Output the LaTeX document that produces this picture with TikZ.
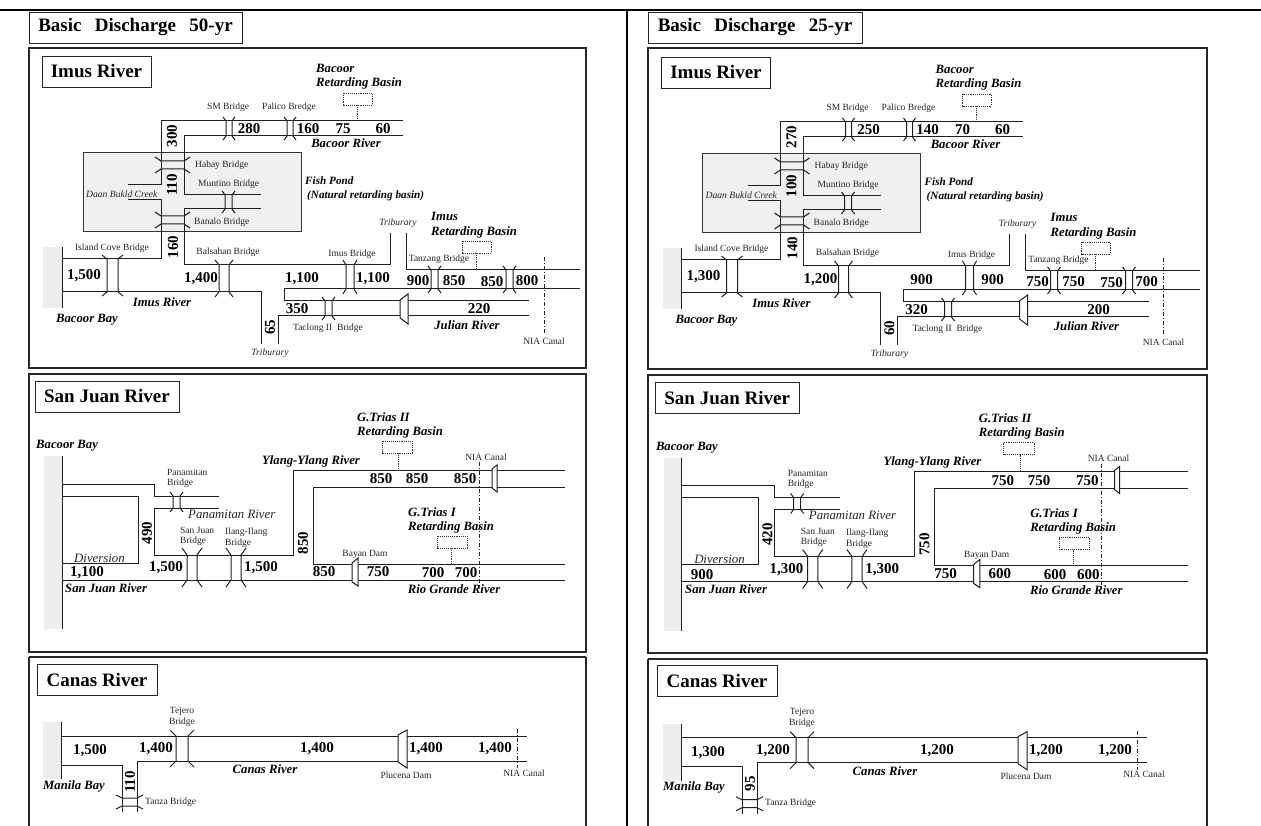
\documentclass[tikz,border=0pt]{standalone}
\usepackage{fontspec}
\setmainfont{Liberation Serif}
\newcounter{lbl}
\newcommand{\lab}[4][]{\stepcounter{lbl}\node[#1] (lbl\thelbl) at (#2,#3) {#4};}
% vertical bridge: x1,x2,y1,y2,flare x,flare y
\newcommand{\vbr}[6]{%
 \draw[river] ({#1-#5},{#3-#6}) -- (#1,#3) -- (#1,#4) -- ({#1-#5},{#4+#6});
 \draw[river] ({#2+#5},{#3-#6}) -- (#2,#3) -- (#2,#4) -- ({#2+#5},{#4+#6});}
% horizontal bridge: y1,y2,x1,x2,flare x,flare y
\newcommand{\hbr}[6]{%
 \draw[river] ({#3-#5},{#1-#6}) -- (#3,#1) -- (#4,#1) -- ({#4+#5},{#1-#6});
 \draw[river] ({#3-#5},{#2+#6}) -- (#3,#2) -- (#4,#2) -- ({#4+#5},{#2+#6});}
% dam: xl,xr,yl1,yl2,yr1,yr2
\newcommand{\dam}[6]{\draw[river,fill=white] (#1,#3) -- (#2,#5) -- (#2,#6) -- (#1,#4) -- cycle;}
% retarding basin: x1,x2,y1,y2,stem x,stem end
\newcommand{\basin}[6]{\draw[dotline] (#1,#3) rectangle (#2,#4); \draw[dotline] (#5,#4) -- (#5,#6);}
\tikzset{
 river/.style={line width=1pt,draw=black!88},
 dotline/.style={line width=0.9pt,draw=black!80,densely dotted},
 canal/.style={line width=0.9pt,draw=black!85,dash pattern=on 4pt off 2pt on 1pt off 2pt},
 panelbox/.style={line width=1.5pt,draw=black!85},
 pale/.style={fill=black!7,draw=none},
 pond/.style={fill=black!6,draw=black!80,line width=1pt},
 titlebox/.style={draw=black!85,line width=0.9pt,fill=white,inner sep=0pt,font=\fontsize{19}{22}\selectfont\bfseries,minimum height=31pt},
 numlab/.style={inner sep=0pt,font=\fontsize{15}{17}\selectfont\bfseries},
 rivlab/.style={inner sep=0pt,font=\fontsize{12.7}{15}\selectfont\bfseries\itshape},
 pondlab/.style={inner sep=0pt,font=\fontsize{11.2}{13}\selectfont\bfseries\itshape},
 smalllab/.style={inner sep=0pt,text=black!85,font=\fontsize{9.5}{11}\selectfont},
 smallit/.style={inner sep=0pt,text=black!85,font=\fontsize{9.6}{11}\selectfont\itshape},
 midit/.style={inner sep=0pt,text=black!85,font=\fontsize{12.8}{15}\selectfont\itshape},
}
\newcommand{\imuspanel}{%
 \fill[pale] (43,247) rectangle (62,308);
 \draw[pond] (83,153) rectangle (301,232);
 \draw[river] (62,247) -- (62,308);
 \draw[river] (128,185) -- (161,185) -- (161,121) -- (403,121);
 \draw[river] (403,136) -- (184,136) -- (184,195) -- (261,195);
 \draw[river] (261,209) -- (184,209) -- (184,265) -- (390,265) -- (390,233);
 \draw[river] (128,200) -- (161,200) -- (161,259) -- (62,259);
 \draw[river] (62,292) -- (261,292) -- (261,344);
 \draw[river] (406,233) -- (406,270) -- (580,270);
 \draw[river] (580,289) -- (284,289) -- (284,301) -- (529,301);
 \draw[river] (529,316) -- (278,316) -- (278,344);
 \vbr{226}{232}{121}{136}{3}{4}
 \vbr{287}{293}{121}{136}{3}{4}
 \vbr{225}{232}{195}{209}{3}{4}
 \hbr{161}{169}{161}{184}{6}{4}
 \hbr{216}{224}{161}{184}{6}{4}
 \vbr{107}{118}{259}{292}{5}{4}
 \vbr{219}{229}{265}{292}{4}{5}
 \vbr{346}{354}{265}{289}{3}{5}
 \vbr{431}{438}{270}{289}{3}{4}
 \vbr{506}{513}{270}{289}{3}{4}
 \vbr{325}{332}{301}{316}{3}{4}
 \dam{400}{408}{300}{318}{294}{324}
 \draw[canal] (544,257) -- (544,333);
 \basin{462}{491}{241}{253}{476}{270}
 \basin{343}{372}{93}{105}{357}{121}
 \lab[titlebox,minimum width=109pt]{96.5}{71.5}{Imus River}
 \lab[rivlab,anchor=west]{316}{68}{Bacoor}
 \lab[rivlab,anchor=west]{316}{83}{Retarding Basin}
 \lab[smalllab]{228}{107}{SM Bridge}
 \lab[smalllab]{289}{107}{Palico Bredge}
 \lab[numlab]{249}{129}{\iA}
 \lab[numlab]{308}{129}{\iB}
 \lab[numlab]{343}{129}{\iC}
 \lab[numlab]{383}{129}{\iD}
 \lab[rivlab]{346}{143}{Bacoor River}
 \lab[numlab,rotate=90]{172}{136}{\iE}
 \lab[numlab,rotate=90]{172}{185}{\iF}
 \lab[numlab,rotate=90]{173}{247}{\iG}
 \lab[smalllab,anchor=west]{195}{165}{Habay Bridge}
 \lab[smalllab,anchor=west]{198}{184}{Muntino Bridge}
 \lab[smallit,anchor=west]{86}{194}{Daan Bukld Creek}
 \lab[smalllab,anchor=west]{194}{222}{Banalo Bridge}
 \lab[pondlab,anchor=west]{305}{181}{Fish Pond}
 \lab[pondlab,anchor=west]{307}{196}{(Natural retarding basin)}
 \lab[smalllab]{112}{248}{Island Cove Bridge}
 \lab[smalllab]{228}{252}{Balsahan Bridge}
 \lab[smalllab]{352}{254}{Imus Bridge}
 \lab[smalllab]{439}{259}{Tanzang Bridge}
 \lab[smallit]{398}{223}{Triburary}
 \lab[rivlab,anchor=west]{431}{216}{Imus}
 \lab[rivlab,anchor=west]{431}{232}{Retarding Basin}
 \lab[numlab]{84}{276}{\iH}
 \lab[numlab]{201}{279}{\iI}
 \lab[numlab]{\iJx}{279}{\iJ}
 \lab[numlab]{373}{279}{\iK}
 \lab[numlab]{418}{281}{\iL}
 \lab[numlab]{454}{281}{\iM}
 \lab[numlab]{492}{282}{\iN}
 \lab[numlab]{527}{281}{\iO}
 \lab[numlab]{297}{309}{\iP}
 \lab[numlab]{479}{309}{\iQ}
 \lab[numlab,rotate=90]{270}{327}{\iR}
 \lab[rivlab]{162}{302}{Imus River}
 \lab[rivlab]{87}{320}{Bacoor Bay}
 \lab[rivlab]{467}{325}{Julian River}
 \lab[smalllab]{328}{328}{Taclong II\ \ Bridge}
 \lab[smallit]{270}{353}{Triburary}
 \lab[smalllab]{544}{341}{NIA Canal}
}
\newcommand{\juanpanel}{%
 \fill[pale] (44,456) rectangle (62,629);
 \draw[river] (62,456) -- (62,629);
 \draw[river] (62,484) -- (154,484) -- (154,496) -- (219,496);
 \draw[river] (219,508) -- (154,508) -- (154,555) -- (293,555) -- (293,470) -- (565,470);
 \draw[river] (565,487) -- (313,487) -- (313,564) -- (565,564);
 \draw[river] (62,580) -- (565,580);
 \draw[river] (62,496) -- (138,496) -- (138,563) -- (62,563);
 \vbr{173}{180}{496}{508}{3}{4}
 \vbr{187}{197}{555}{580}{5}{7}
 \vbr{231}{241}{555}{580}{5}{7}
 \dam{352}{358}{563}{582}{558}{586}
 \dam{492}{497}{469}{488}{465}{492}
 \draw[canal] (479,462) -- (479,588);
 \basin{382}{412}{441}{453}{398}{470}
 \basin{437}{467}{536}{548}{451}{564}
 \lab[titlebox,minimum width=144pt]{107}{396.5}{San Juan River}
 \lab[rivlab,anchor=west]{36}{446}{Bacoor Bay}
 \lab[smalllab,anchor=west]{167}{472}{Panamitan}
 \lab[smalllab,anchor=west]{167}{483}{Bridge}
 \lab[midit,anchor=west]{188}{514}{Panamitan River}
 \lab[smalllab,anchor=west]{180}{530}{San Juan}
 \lab[smalllab,anchor=west]{180}{541}{Bridge}
 \lab[smalllab,anchor=west]{225}{532}{Ilang-Ilang}
 \lab[smalllab,anchor=west]{225}{543}{Bridge}
 \lab[numlab,rotate=90]{147}{533}{\jA}
 \lab[numlab,rotate=90]{303}{543}{\jB}
 \lab[numlab]{166}{568}{\jC}
 \lab[numlab]{261}{568}{\jC}
 \lab[numlab]{\jDx}{573}{\jD}
 \lab[midit,anchor=west]{74}{558}{Diversion}
 \lab[rivlab,anchor=west]{65}{588}{San Juan River}
 \lab[rivlab]{311}{461}{Ylang-Ylang River}
 \lab[rivlab,anchor=west]{357}{417}{G.Trias II}
 \lab[rivlab,anchor=west]{357}{432}{Retarding Basin}
 \lab[rivlab,anchor=west]{408}{512}{G.Trias I}
 \lab[rivlab,anchor=west]{408}{527}{Retarding Basin}
 \lab[smalllab]{486}{457}{NIA Canal}
 \lab[numlab]{381}{479}{\jB}
 \lab[numlab]{417}{479}{\jB}
 \lab[numlab]{465}{479}{\jB}
 \lab[numlab]{324}{572}{\jB}
 \lab[numlab]{378}{572}{\jE}
 \lab[numlab]{433}{573}{\jF}
 \lab[numlab]{466}{573}{\jF}
 \lab[smalllab]{365}{554}{Bayan Dam}
 \lab[rivlab]{454}{589}{Rio Grande River}
}
\newcommand{\canaspanel}{%
 \fill[pale] (43,722) rectangle (61,779);
 \draw[river] (61,722) -- (61,779);
 \draw[river] (61,736) -- (527,736);
 \draw[river] (527,761) -- (137,761) -- (137,812);
 \draw[river] (61,765) -- (122,765) -- (122,812);
 \vbr{176}{188}{736}{761}{6}{6}
 \hbr{798}{806}{122}{137}{6}{3}
 \dam{398}{407}{735}{762}{730}{768}
 \draw[canal] (517,729) -- (517,768);
 \lab[titlebox,minimum width=120pt]{97}{679.5}{Canas River}
 \lab[smalllab]{182}{711}{Tejero}
 \lab[smalllab]{182}{722}{Bridge}
 \lab[numlab]{\cAx}{751}{\cA}
 \lab[numlab]{\cBx}{749}{\cB}
 \lab[numlab]{317}{749}{\cB}
 \lab[numlab]{426}{749}{\cB}
 \lab[numlab]{495}{749}{\cB}
 \lab[rivlab]{265}{769}{Canas River}
 \lab[rivlab]{74}{786}{Manila Bay}
 \lab[numlab,rotate=90]{130}{782}{\cC}
 \lab[smalllab,anchor=west]{145}{802}{Tanza Bridge}
 \lab[smalllab]{406}{775}{Plucena Dam}
 \lab[smalllab]{524}{773}{NIA Canal}
}
\begin{document}
\begin{tikzpicture}[x=1pt,y=-1pt]
\useasboundingbox (0,0) rectangle (1261,826);
\fill[white] (0,0) rectangle (1261,826);
% page rules
\draw[black,line width=2.5pt] (0,10) -- (1261,10);
\draw[black,line width=2.5pt] (627,10) -- (627,826);
% headings
\lab[titlebox,minimum width=213pt]{135.5}{27.5}{Basic\hspace{.7em}Discharge\hspace{.7em}50-yr}
\lab[titlebox,minimum width=214pt]{755}{27.5}{Basic\hspace{.7em}Discharge\hspace{.7em}25-yr}
% panel frames
\draw[panelbox] (29,48) rectangle (586,368);
\draw[panelbox] (29,374) rectangle (586,652);
\draw[panelbox] (29,657) -- (586,657);
\draw[panelbox] (29,657) -- (29,826);
\draw[panelbox] (586,657) -- (586,826);
\draw[panelbox] (648,48) rectangle (1207,369);
\draw[panelbox] (648,375) rectangle (1207,653);
\draw[panelbox] (648,659) -- (1207,659);
\draw[panelbox] (648,659) -- (648,826);
\draw[panelbox] (1207,659) -- (1207,826);
% 50-year
\def\iA{280}\def\iB{160}\def\iC{75}\def\iD{60}\def\iE{300}\def\iF{110}\def\iG{160}
\def\iH{1,500}\def\iI{1,400}\def\iJ{1,100}\def\iJx{302}\def\iK{1,100}\def\iL{900}\def\iM{850}\def\iN{850}\def\iO{800}
\def\iP{350}\def\iQ{220}\def\iR{65}
\imuspanel
\def\jA{490}\def\jB{850}\def\jC{1,500}\def\jD{1,100}\def\jDx{87}\def\jE{750}\def\jF{700}
\juanpanel
\def\cA{1,500}\def\cAx{90}\def\cB{1,400}\def\cBx{156}\def\cC{110}
\canaspanel
% 25-year
\def\iA{250}\def\iB{140}\def\iC{70}\def\iD{60}\def\iE{270}\def\iF{100}\def\iG{140}
\def\iH{1,300}\def\iI{1,200}\def\iJ{900}\def\iJx{302}\def\iK{900}\def\iL{750}\def\iM{750}\def\iN{750}\def\iO{700}
\def\iP{320}\def\iQ{200}\def\iR{60}
\begin{scope}[shift={(619.5,1)}]
\imuspanel
\end{scope}
\def\jA{420}\def\jB{750}\def\jC{1,300}\def\jD{900}\def\jDx{82}\def\jE{600}\def\jF{600}
\begin{scope}[shift={(619.6,1.5)},xscale=1.006]
\juanpanel
\end{scope}
\def\cA{1,300}\def\cAx{88}\def\cB{1,200}\def\cBx{153}\def\cC{95}
\begin{scope}[shift={(620,1.7)}]
\canaspanel
\end{scope}
\end{tikzpicture}
\end{document}
